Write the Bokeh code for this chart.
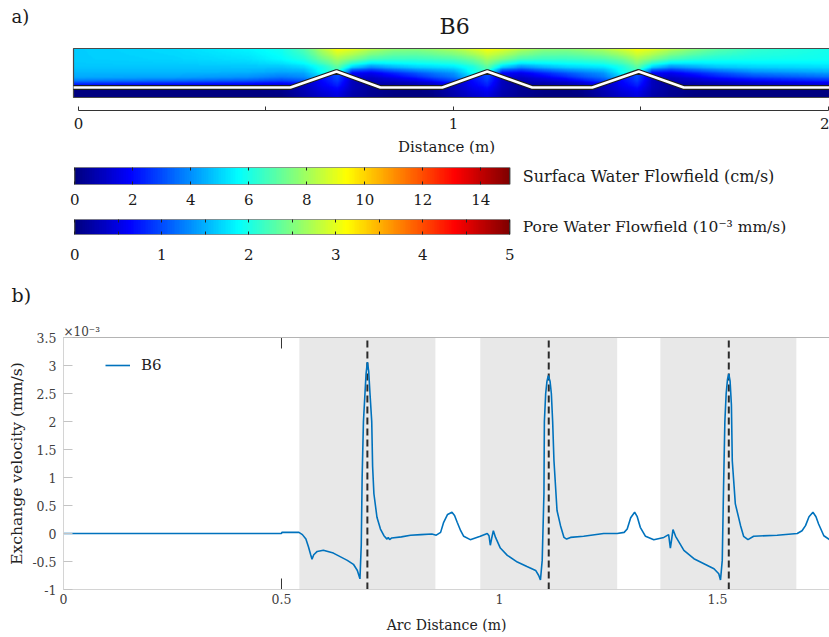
import numpy as np
from bokeh.plotting import figure
from bokeh.layouts import column
from bokeh.models import (LinearAxis, FixedTicker, NumeralTickFormatter, Label, Title,
                          LinearColorMapper, Range1d)
from bokeh.embed import file_html
from bokeh.resources import INLINE

FONT = "DejaVu Serif"

# ---------------- panel a : flow field ----------------
BED_X = [-0.0133, 0.565, 0.688, 0.805, 0.970, 1.090, 1.210, 1.370, 1.494, 1.614, 2.05]
BED_Z = [0.0, 0.0, 0.0427, 0.0, 0.0, 0.0427, 0.0, 0.0, 0.0427, 0.0, 0.0]
DOMAIN_X0, DOMAIN_X1 = -0.0133, 2.05
WATER_TOP, SED_BOTTOM = 0.104, -0.0267

GRID_X = [-0.013, 0.25, 0.45, 0.54, 0.60, 0.65, 0.69, 0.73, 0.78, 0.84, 0.90,
          0.94, 1.00, 1.05, 1.09, 1.13, 1.18, 1.24, 1.30,
          1.34, 1.40, 1.45, 1.49, 1.53, 1.58, 1.64, 1.70, 1.80, 2.05]

# surface water speed (cm/s) at heights above the flat bed (m)
WATER_Z = [0.0, 0.006, 0.014, 0.025, 0.04, 0.055, 0.075, 0.104]
W_000 = [0.5] * 29
W_006 = [2.0, 1.8, 1.6, 1.4, 1.6, 2.0, 2.0, 0.6, 0.5, 0.5, 0.7, 0.9, 1.5, 2.0, 2.0, 0.6, 0.5, 0.5, 0.7,
         0.9, 1.5, 2.0, 2.0, 0.6, 0.5, 0.5, 0.6, 0.9, 1.3]
W_014 = [3.3, 3.0, 2.7, 2.4, 2.8, 3.5, 3.5, 1.0, 0.8, 0.9, 1.2, 1.6, 2.6, 3.5, 3.5, 1.0, 0.8, 0.9, 1.2,
         1.6, 2.6, 3.5, 3.5, 1.0, 0.8, 0.9, 1.1, 1.5, 2.1]
W_025 = [4.3, 4.2, 3.9, 3.5, 3.8, 4.8, 5.0, 1.2, 1.0, 1.5, 2.2, 2.8, 3.5, 4.8, 5.0, 1.2, 1.0, 1.5, 2.2,
         2.8, 3.5, 4.8, 5.0, 1.2, 1.0, 1.4, 2.0, 2.6, 3.4]
W_040 = [4.6, 4.6, 4.5, 4.3, 4.4, 5.8, 6.5, 2.0, 1.8, 2.6, 3.3, 3.7, 4.2, 5.8, 6.5, 2.0, 1.8, 2.6, 3.3,
         3.7, 4.2, 5.8, 6.5, 2.0, 1.8, 2.5, 3.1, 3.9, 4.5]
W_055 = [4.8, 4.8, 4.8, 4.8, 5.1, 6.0, 7.0, 5.0, 4.0, 4.6, 5.0, 5.1, 5.3, 6.0, 7.0, 5.0, 4.0, 4.6, 5.0,
         5.1, 5.3, 6.0, 7.0, 5.0, 4.0, 4.4, 4.8, 5.0, 5.2]
W_075 = [4.9, 5.0, 5.2, 5.6, 6.1, 7.2, 8.0, 7.4, 6.6, 6.4, 6.4, 6.5, 6.7, 7.2, 8.0, 7.4, 6.6, 6.4, 6.4,
         6.5, 6.7, 7.2, 8.0, 7.4, 6.6, 6.2, 6.0, 5.9, 5.8]
W_104 = [4.9, 5.1, 5.5, 5.9, 6.8, 8.3, 9.3, 9.0, 8.3, 7.7, 7.6, 7.8, 8.2, 8.8, 9.3, 9.0, 8.3, 7.7, 7.6,
         7.8, 8.2, 8.8, 9.3, 9.0, 8.3, 7.6, 7.0, 6.4, 5.8]

# pore water speed (1e-3 mm/s) at heights (m)
SED_Z = [-0.027, -0.013, 0.0, 0.015, 0.03, 0.043]
S_m27 = [0, 0, 0, 0, 0.2, 0.35, 0.45, 0.2, 0.08, 0, 0, 0, 0.2, 0.35, 0.45, 0.2, 0.08, 0, 0,
         0, 0.2, 0.35, 0.45, 0.2, 0.08, 0, 0, 0, 0]
S_m13 = [0, 0, 0, 0.05, 0.25, 0.45, 0.55, 0.25, 0.1, 0.03, 0, 0.05, 0.25, 0.45, 0.55, 0.25, 0.1, 0.03, 0,
         0.05, 0.25, 0.45, 0.55, 0.25, 0.1, 0.03, 0, 0, 0]
S_000 = [0, 0, 0, 0.05, 0.3, 0.55, 0.7, 0.3, 0.12, 0.05, 0, 0.05, 0.3, 0.55, 0.7, 0.3, 0.12, 0.05, 0,
         0.05, 0.3, 0.55, 0.7, 0.3, 0.12, 0.05, 0, 0, 0]
S_015 = [0, 0, 0, 0, 0.3, 0.65, 0.9, 0.3, 0.1, 0, 0, 0, 0.3, 0.65, 0.9, 0.3, 0.1, 0, 0,
         0, 0.3, 0.65, 0.9, 0.3, 0.1, 0, 0, 0, 0]
S_030 = [0, 0, 0, 0, 0.3, 0.7, 1.0, 0.35, 0.1, 0, 0, 0, 0.3, 0.7, 1.0, 0.35, 0.1, 0, 0,
         0, 0.3, 0.7, 1.0, 0.35, 0.1, 0, 0, 0, 0]
S_043 = [0, 0, 0, 0, 0.2, 0.7, 1.0, 0.4, 0.1, 0, 0, 0, 0.2, 0.7, 1.0, 0.4, 0.1, 0, 0,
         0, 0.2, 0.7, 1.0, 0.4, 0.1, 0, 0, 0, 0]

SURF_MAX, PORE_MAX = 15.0, 5.0
SURF_TICKS = [0, 2, 4, 6, 8, 10, 12, 14]
PORE_TICKS = [0, 1, 2, 3, 4, 5]
PORE_MINOR = [0.5, 1.5, 2.5, 3.5, 4.5]
DIST_TICKS = [0, 1, 2]
DIST_MINOR = [0.5, 1.5]

# ---------------- panel b : exchange velocity (x 1e-3 mm/s) ----------------
ARC_X = [0.000, 0.500, 0.501, 0.540, 0.548, 0.556, 0.562, 0.567, 0.570, 0.574, 0.582, 0.596, 0.619,
         0.651, 0.665, 0.674, 0.680, 0.683, 0.685, 0.688, 0.6915, 0.694, 0.697, 0.700, 0.703, 0.707,
         0.709, 0.712, 0.719, 0.727, 0.735, 0.742, 0.745, 0.748, 0.753, 0.775, 0.796, 0.820, 0.845,
         0.855, 0.865, 0.872, 0.881, 0.891, 0.897, 0.903, 0.911, 0.918, 0.933, 0.956, 0.972, 0.976,
         0.979, 0.982, 0.986, 0.991, 1.002, 1.018, 1.041, 1.063, 1.083, 1.090, 1.094, 1.098, 1.102,
         1.103, 1.106, 1.109, 1.112, 1.116, 1.119, 1.122, 1.125, 1.132, 1.140, 1.148, 1.154, 1.163,
         1.193, 1.239, 1.270, 1.286, 1.293, 1.301, 1.310, 1.316, 1.323, 1.335, 1.354, 1.377, 1.388,
         1.392, 1.395, 1.398, 1.404, 1.423, 1.446, 1.469, 1.492, 1.503, 1.507, 1.511, 1.514, 1.517,
         1.520, 1.523, 1.526, 1.529, 1.532, 1.534, 1.541, 1.553, 1.560, 1.570, 1.583, 1.637, 1.683,
         1.694, 1.702, 1.710, 1.719, 1.726, 1.732, 1.744, 1.757]
EXCH_V = [0.00, 0.00, 0.02, 0.02, -0.02, -0.10, -0.24, -0.38, -0.46, -0.38, -0.32, -0.30, -0.35,
          -0.48, -0.55, -0.66, -0.81, -0.20, 1.00, 2.00, 2.50, 2.85, 3.06, 2.90, 2.50, 2.00,
          1.20, 0.71, 0.29, 0.08, -0.04, -0.10, -0.07, -0.11, -0.08, -0.06, -0.03, -0.02, -0.01,
          -0.03, 0.02, 0.20, 0.34, 0.38, 0.32, 0.20, 0.05, -0.05, -0.11, -0.05, 0.00, -0.04,
          -0.21, -0.09, 0.05, -0.07, -0.26, -0.39, -0.51, -0.59, -0.66, -0.75, -0.83, -0.48, 0.71,
          2.00, 2.50, 2.72, 2.82, 2.72, 2.50, 2.00, 1.30, 0.41, 0.14, -0.07, -0.10, -0.07,
          -0.05, 0.00, 0.00, 0.02, 0.08, 0.28, 0.38, 0.30, 0.11, -0.05, -0.11, -0.07, -0.02,
          -0.26, -0.10, 0.07, -0.05, -0.30, -0.45, -0.54, -0.63, -0.72, -0.83, -0.48, 0.83, 2.00,
          2.50, 2.75, 2.85, 2.72, 2.30, 1.30, 0.53, 0.14, -0.05, -0.11, -0.05, -0.03, 0.00,
          0.05, 0.14, 0.30, 0.38, 0.30, 0.17, -0.04, -0.11]
SHADE_L = [0.541, 0.956, 1.369]
SHADE_R = [0.853, 1.270, 1.681]
CREST_X = [0.697, 1.113, 1.526]
X_MAX = 1.757
Y_MIN, Y_MAX = -1.0, 3.5
XB_TICKS = [0, 0.5, 1, 1.5]
YB_TICKS = [-1, -0.5, 0, 0.5, 1, 1.5, 2, 2.5, 3, 3.5]
PX_PER_Y = 56.0          # pixels per y unit in panel b (for tick length)
XTICK_PX = 11


def jet(n=256):
    t = np.linspace(0, 1, n)
    r = np.clip(1.5 - np.abs(4 * t - 3), 0, 1)
    g = np.clip(1.5 - np.abs(4 * t - 2), 0, 1)
    b = np.clip(1.5 - np.abs(4 * t - 1), 0, 1)
    return ["#%02x%02x%02x" % (int(round(255 * a)), int(round(255 * c)), int(round(255 * d)))
            for a, c, d in zip(r, g, b)]


JET = jet()
CMAP = LinearColorMapper(palette=JET, low=0, high=1)


def grid_to_image(gx, gz, rows, xs, zs):
    rx = np.array([np.interp(xs, gx, r) for r in rows])
    out = np.empty((len(zs), len(xs)))
    for j in range(len(xs)):
        out[:, j] = np.interp(zs, gz, rx[:, j])
    return out


def title(p, text, size, align, offset, standoff, color="#1a1a1a"):
    p.add_layout(Title(text=text, align=align, offset=offset, standoff=standoff,
                       text_font=FONT, text_font_size=size, text_font_style="normal",
                       text_color=color), "above")


LEFT = 63

# ---------- figure A ----------
pa = figure(width=829, height=158, x_range=Range1d(-0.04, 2.00267),
            y_range=Range1d(-0.06133, 0.12), output_backend="svg", toolbar_location=None,
            y_axis_location=None, min_border_left=LEFT, min_border_right=0,
            min_border_top=42, min_border_bottom=48, title=None)
pa.grid.visible = False
pa.outline_line_color = None
title(pa, "B6", "22px", "left", 376, 7)
title(pa, "a)", "18px", "left", -52, -36)

xs = np.linspace(DOMAIN_X0, DOMAIN_X1, 820)
zs = np.linspace(SED_BOTTOM, WATER_TOP, 60)
water = grid_to_image(GRID_X, WATER_Z, [W_000, W_006, W_014, W_025, W_040, W_055, W_075, W_104], xs, zs) / SURF_MAX
sed = grid_to_image(GRID_X, SED_Z, [S_m27, S_m13, S_000, S_015, S_030, S_043], xs, zs) / PORE_MAX
bed = np.interp(xs, BED_X, BED_Z)
field = np.where(zs[:, None] >= bed[None, :], water, sed)
pa.image(image=[field], x=DOMAIN_X0, y=SED_BOTTOM, dw=DOMAIN_X1 - DOMAIN_X0,
         dh=WATER_TOP - SED_BOTTOM, color_mapper=CMAP)
pa.quad(left=DOMAIN_X0, right=DOMAIN_X1, bottom=SED_BOTTOM, top=WATER_TOP,
        fill_alpha=0, line_color="#4a4a4a", line_width=1.2)
pa.line(BED_X, BED_Z, line_color="#1e1e1e", line_width=5)
pa.line(BED_X, BED_Z, line_color="white", line_width=2.6)

ax = pa.xaxis[0]
ax.ticker = FixedTicker(ticks=DIST_TICKS, minor_ticks=DIST_MINOR)
ax.formatter = NumeralTickFormatter(format="0.[0]")
ax.bounds = (0, 2)
ax.major_tick_in = 4
ax.major_tick_out = 0
ax.minor_tick_in = 4
ax.minor_tick_out = 0
ax.axis_line_color = "#333333"
ax.major_tick_line_color = "#333333"
ax.minor_tick_line_color = "#333333"
ax.major_label_text_font = FONT
ax.major_label_text_font_size = "15px"
ax.major_label_text_color = "#1a1a1a"
ax.major_label_standoff = 7
ax.axis_label = "Distance (m)"
ax.axis_label_text_font = FONT
ax.axis_label_text_font_size = "15px"
ax.axis_label_text_font_style = "normal"
ax.axis_label_text_color = "#1a1a1a"
ax.axis_label_standoff = 6


def colorbar_fig(vmax, px_per_unit, ticks, minor, label, label_size, top, bottom, standoff):
    x0_px = 74.3 - LEFT
    start = -x0_px / px_per_unit
    end = (829 - LEFT - x0_px) / px_per_unit
    p = figure(width=829, height=52, x_range=Range1d(start, end), y_range=Range1d(0, 1),
               output_backend="svg", toolbar_location=None, y_axis_location=None,
               min_border_left=LEFT, min_border_right=0, min_border_top=top,
               min_border_bottom=bottom)
    p.grid.visible = False
    p.outline_line_color = None
    p.image(image=[np.linspace(0, 1, 256)[None, :]], x=0, y=0, dw=vmax, dh=1, color_mapper=CMAP)
    p.quad(left=0, right=vmax, bottom=0, top=1, fill_alpha=0, line_color="#333333", line_width=1.2)
    a = p.xaxis[0]
    a.ticker = FixedTicker(ticks=ticks, minor_ticks=minor)
    a.formatter = NumeralTickFormatter(format="0")
    a.bounds = (0, vmax)
    a.axis_line_color = None
    a.major_tick_in = 3
    a.major_tick_out = 0
    a.minor_tick_in = 3
    a.minor_tick_out = 0
    a.major_tick_line_color = "#222222"
    a.minor_tick_line_color = "#222222"
    a.major_label_text_font = FONT
    a.major_label_text_font_size = "15px"
    a.major_label_text_color = "#1a1a1a"
    a.major_label_standoff = standoff
    up = LinearAxis(ticker=FixedTicker(ticks=ticks, minor_ticks=minor), axis_line_color=None,
                    bounds=(0, vmax), major_tick_in=3, major_tick_out=0, minor_tick_in=3,
                    minor_tick_out=0, major_tick_line_color="#222222",
                    minor_tick_line_color="#222222",
                    major_label_overrides={t: "" for t in ticks}, major_label_standoff=0)
    p.add_layout(up, "above")
    p.add_layout(Label(x=vmax, y=0.5, x_offset=13, text=label, text_font=FONT,
                       text_font_size=label_size, text_baseline="middle", text_color="#1a1a1a"))
    return p


pc1 = colorbar_fig(SURF_MAX, 29.0, SURF_TICKS, [], "Surfaca Water Flowfield (cm/s)", "16px",
                   9, 26, 9)
pc2 = colorbar_fig(PORE_MAX, 87.0, PORE_TICKS, PORE_MINOR,
                   "Pore Water Flowfield (10\u207b\u00b3 mm/s)", "15.5px", 9, 27, 14)

# ---------- figure B ----------
pb = figure(width=829, height=375, x_range=Range1d(0, X_MAX), y_range=Range1d(Y_MIN, Y_MAX),
            output_backend="svg", toolbar_location=None, min_border_left=LEFT, min_border_right=0,
            min_border_top=75, min_border_bottom=48, title=None)
pb.grid.visible = False
pb.outline_line_color = None
tick_len = XTICK_PX / PX_PER_Y
pb.segment(x0=XB_TICKS, y0=Y_MIN, x1=XB_TICKS, y1=Y_MIN + tick_len, line_color="#333333")
pb.segment(x0=XB_TICKS, y0=Y_MAX, x1=XB_TICKS, y1=Y_MAX - tick_len, line_color="#333333")
pb.quad(left=SHADE_L, right=SHADE_R, bottom=Y_MIN, top=Y_MAX, fill_color="#e8e8e8",
        line_color=None)
pb.segment(x0=CREST_X, y0=Y_MIN, x1=CREST_X, y1=Y_MAX, line_color="#2a2a2a",
           line_width=2, line_dash="7 4")
pb.line(ARC_X, EXCH_V, line_color="#0072BD", line_width=1.6, legend_label="B6")

bx = pb.xaxis[0]
bx.ticker = FixedTicker(ticks=XB_TICKS)
bx.formatter = NumeralTickFormatter(format="0.[0]")
bx.major_tick_in = 0
bx.major_tick_out = 0
bx.minor_tick_line_color = None
bx.axis_line_color = "#d4d4d4"
bx.major_label_text_font = FONT
bx.major_label_text_font_size = "12.5px"
bx.major_label_text_color = "#404040"
bx.major_label_standoff = 4
bx.axis_label = "Arc Distance (m)"
bx.axis_label_text_font = FONT
bx.axis_label_text_font_size = "14px"
bx.axis_label_text_font_style = "normal"
bx.axis_label_text_color = "#222222"
bx.axis_label_standoff = 10

by = pb.yaxis[0]
by.ticker = FixedTicker(ticks=YB_TICKS)
by.formatter = NumeralTickFormatter(format="0.[0]")
by.major_tick_in = 9
by.major_tick_out = 0
by.minor_tick_line_color = None
by.major_tick_line_color = "#c4c4c4"
by.axis_line_color = "#d4d4d4"
by.major_label_text_font = FONT
by.major_label_text_font_size = "12.5px"
by.major_label_text_color = "#404040"
by.major_label_standoff = 7
by.axis_label = "Exchange velocity (mm/s)"
by.axis_label_text_font = FONT
by.axis_label_text_font_size = "15.5px"
by.axis_label_text_font_style = "normal"
by.axis_label_text_color = "#222222"
by.axis_label_standoff = 3

top_ax = LinearAxis(ticker=FixedTicker(ticks=XB_TICKS), major_tick_in=0, major_tick_out=0,
                    minor_tick_line_color=None, axis_line_color="#b4b4b4",
                    major_label_overrides={t: "" for t in XB_TICKS}, major_label_standoff=0)
pb.add_layout(top_ax, "above")
title(pb, "\u00d710\u207b\u00b3", "12px", "left", 0, -2, color="#404040")
title(pb, "b)", "19px", "left", -52, 36)

lg = pb.legend[0]
lg.location = (42, 214)
lg.margin = 0
lg.padding = 0
lg.spacing = 0
lg.border_line_color = None
lg.background_fill_alpha = 0
lg.glyph_width = 25
lg.glyph_height = 20
lg.label_standoff = 11
lg.label_text_font = FONT
lg.label_text_font_size = "15px"
lg.label_text_color = "#222222"

layout = column(pa, pc1, pc2, pb, spacing=0)
open("out.html", "w").write(file_html(layout, INLINE))
